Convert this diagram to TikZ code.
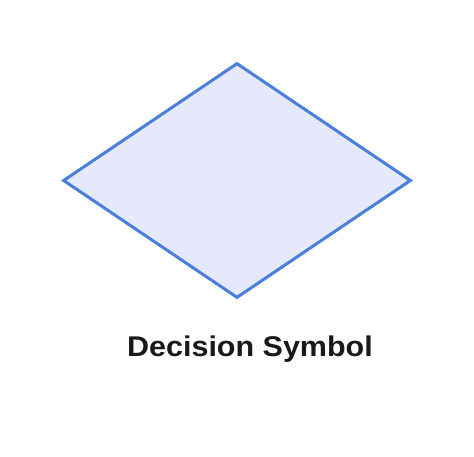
\documentclass[tikz,border=0pt]{standalone}
\usepackage{fontspec}
\setmainfont{Liberation Sans}
\usetikzlibrary{shapes.geometric}
\definecolor{edgeblue}{HTML}{4A7FDC}
\definecolor{fillblue}{HTML}{E6E9FB}
\tikzset{
  decision/.style={diamond, draw=edgeblue, fill=fillblue, line width=3pt, inner sep=0pt, minimum width=348pt, minimum height=235pt},
  caption/.style={font=\bfseries\fontsize{28.5}{32}\selectfont\addfontfeatures{FakeStretch=1.07}, text=black!90, inner sep=0pt, anchor=base}
}
\begin{document}
\begin{tikzpicture}[x=1pt,y=1pt]
\useasboundingbox (0,0) rectangle (474,457);
\node[decision] (d) at (237,276.5) {};
\node[caption] (t) at (250,100) {Decision Symbol};
\end{tikzpicture}
\end{document}
